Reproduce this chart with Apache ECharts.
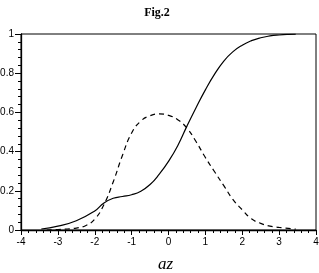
<!DOCTYPE html>
<html>
<head>
<meta charset="utf-8">
<script src="https://cdn.jsdelivr.net/npm/echarts@6/dist/echarts.min.js"></script>
<style>html,body{margin:0;padding:0;background:#fff}#c{width:319px;height:273px}</style>
</head>
<body>
<div id="c"></div>
<script>
var solidX = [-3.45,-3.0,-2.5,-2.0,-1.75,-1.5,-1.25,-1.0,-0.75,-0.5,-0.25,0.0,0.25,0.5,0.75,1.0,1.25,1.5,1.75,2.0,2.25,2.5,2.75,3.0,3.25,3.45];
var solidY = [0.005,0.02,0.047,0.097,0.138,0.162,0.171,0.18,0.198,0.232,0.285,0.35,0.43,0.53,0.625,0.715,0.795,0.862,0.91,0.943,0.966,0.981,0.99,0.995,0.998,0.999];
var dashX = [-3.3,-3.0,-2.75,-2.5,-2.25,-2.0,-1.75,-1.5,-1.25,-1.0,-0.75,-0.5,-0.25,0.0,0.25,0.5,0.75,1.0,1.25,1.5,1.75,2.0,2.25,2.5,2.75,3.0,3.25,3.45];
var dashY = [0.0,0.002,0.005,0.01,0.022,0.055,0.13,0.245,0.38,0.495,0.556,0.583,0.592,0.585,0.563,0.52,0.45,0.37,0.297,0.226,0.155,0.103,0.057,0.034,0.02,0.013,0.008,0.004];
var xTicks = [-4,-3,-2,-1,0,1,2,3,4];
var yTicks = [0,0.2,0.4,0.6,0.8,1];
var titleText = 'Fig.2';
var xName = 'az';

function pairs(xs, ys){ return xs.map(function(x,i){ return [x, ys[i]]; }); }

var chart = echarts.init(document.getElementById('c'));
chart.setOption({
  animation: false,
  title: {
    text: titleText, left: 152, top: 2, textAlign: 'center',
    textStyle: {fontFamily: 'Liberation Serif', fontWeight: 'bold', fontSize: 12, color: '#000'}
  },
  grid: {left: 21, right: 3, top: 34, bottom: 43, show: true, borderColor: '#000', borderWidth: 1,
         containLabel: false, outerBoundsMode: 'none'},
  xAxis: {
    type: 'value', min: xTicks[0], max: xTicks[xTicks.length-1], interval: 1,
    name: xName, nameLocation: 'middle', nameGap: 26,
    nameTextStyle: {fontFamily: 'Liberation Serif', fontStyle: 'italic', fontSize: 17, color: '#000', padding: [0,0,0,-6]},
    axisLine: {onZero: false, lineStyle: {color: '#000', width: 1.3}},
    axisTick: {length: 5, lineStyle: {color: '#000'}},
    minorTick: {show: true, splitNumber: 5, length: 3, lineStyle: {color: '#000'}},
    splitLine: {show: false},
    axisLabel: {fontFamily: 'Liberation Sans', fontSize: 10, color: '#000', margin: 7,
      formatter: function(v){ return String(v); }}
  },
  yAxis: {
    type: 'value', min: yTicks[0], max: yTicks[yTicks.length-1], interval: 0.2,
    axisLine: {onZero: false, lineStyle: {color: '#000', width: 1.3}},
    axisTick: {length: 6, lineStyle: {color: '#000'}},
    minorTick: {show: true, splitNumber: 5, length: 3, lineStyle: {color: '#000'}},
    splitLine: {show: false},
    axisLabel: {fontFamily: 'Liberation Sans', fontSize: 10, color: '#000', margin: 7,
      formatter: function(v){ return String(Math.round(v*10)/10); }}
  },
  series: [
    {type: 'line', data: pairs(solidX, solidY), smooth: true, symbol: 'none',
     lineStyle: {color: '#000', width: 1.2}},
    {type: 'line', data: pairs(dashX, dashY), smooth: true, symbol: 'none',
     lineStyle: {color: '#000', width: 1.2, type: [5,4]}}
  ]
});
</script>
</body>
</html>
